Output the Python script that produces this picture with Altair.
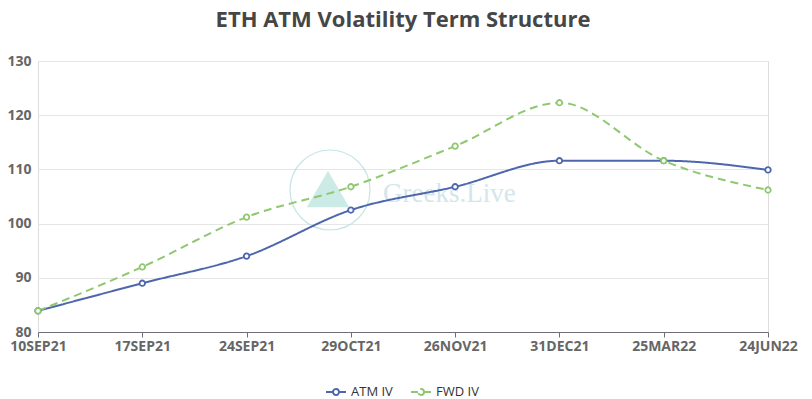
import altair as alt
import pandas as pd

dates = ["10SEP21", "17SEP21", "24SEP21", "29OCT21", "26NOV21", "31DEC21", "25MAR22", "24JUN22"]
atm_iv = [83.9, 89.0, 94.0, 102.5, 106.8, 111.6, 111.6, 109.9]
fwd_iv = [83.9, 92.0, 101.2, 106.8, 114.3, 122.3, 111.6, 106.2]
series_names = ["ATM IV", "FWD IV"]
colors = ["#4e66ad", "#8fc870"]

rows = []
for d, a, f in zip(dates, atm_iv, fwd_iv):
    rows.append({"date": d, "series": series_names[0], "value": a})
    rows.append({"date": d, "series": series_names[1], "value": f})
df = pd.DataFrame(rows)

FONT = "Open Sans"

x = alt.X("date:N", sort=dates, scale=alt.Scale(type="point", padding=0),
          axis=alt.Axis(title=None, labelAngle=0, labelFont=FONT, labelFontWeight="bold",
                        labelFontSize=14, labelColor="#666666", domainColor="#6e7079",
                        tickColor="#6e7079", tickSize=5, labelPadding=2, grid=False))
y = alt.Y("value:Q", scale=alt.Scale(domain=[80, 130], nice=False, zero=False),
          axis=alt.Axis(title=None, values=[80, 90, 100, 110, 120, 130], labelFont=FONT,
                        labelFontWeight="bold", labelFontSize=14, labelColor="#666666",
                        domain=False, ticks=False, gridColor="#e6e6e6", labelPadding=7))
color = alt.Color("series:N", sort=series_names,
                  scale=alt.Scale(domain=series_names, range=colors),
                  legend=alt.Legend(title=None, orient="none", direction="horizontal",
                                    legendX=287, legendY=320,
                                    symbolType="M-1,0L-0.3,0M0.3,0L1,0M0.3,0A0.3,0.3,0,1,1,-0.3,0A0.3,0.3,0,1,1,0.3,0Z",
                                    symbolSize=400, symbolStrokeWidth=2, symbolFillColor="white",
                                    labelFont=FONT, labelFontSize=13, labelColor="#333333",
                                    columnPadding=14, symbolOffset=0))
dash = alt.StrokeDash("series:N", sort=series_names,
                      scale=alt.Scale(domain=series_names, range=[[1, 0], [8, 5]]),
                      legend=None)

lines = alt.Chart(df).mark_line(interpolate="monotone", strokeWidth=2).encode(
    x=x, y=y, color=color, strokeDash=dash)
points = alt.Chart(df).mark_point(filled=True, fill="white", size=30, strokeWidth=1.8, opacity=1).encode(
    x=x, y=y, stroke=alt.Stroke("series:N", scale=alt.Scale(domain=series_names, range=colors), legend=None))

wm_df = pd.DataFrame({"t": ["Greeks.Live"]})
wm_ring = alt.Chart(wm_df).mark_point(shape="circle", size=6400, stroke="#b8dfe0", strokeWidth=1.2,
                                       filled=False, opacity=0.8).encode(
    x=alt.value(292), y=alt.value(129))
wm_tri = alt.Chart(wm_df).mark_point(shape="triangle-up", size=1800, filled=True, fill="#8fd3c8",
                                      opacity=0.45, strokeWidth=0).encode(
    x=alt.value(290), y=alt.value(128))
wm_text = alt.Chart(wm_df).mark_text(font="Liberation Serif", fontSize=27, color="#cfe4ea", align="left",
                                      baseline="middle", opacity=0.9).encode(
    x=alt.value(345), y=alt.value(133), text="t:N")

chart = alt.layer(wm_ring, wm_tri, wm_text, lines, points).properties(
    width=730, height=271,
    title=alt.TitleParams("ETH ATM Volatility Term Structure", font=FONT, fontSize=22,
                          fontWeight="bold", color="#464646", anchor="middle", offset=22),
    autosize=alt.AutoSizeParams(type="none"),
    padding={"left": 30, "top": 53, "right": 36, "bottom": 67},
).configure_view(stroke=None).configure(background="white")

chart.save("out.html", embed_options={"renderer": "svg", "actions": False})
